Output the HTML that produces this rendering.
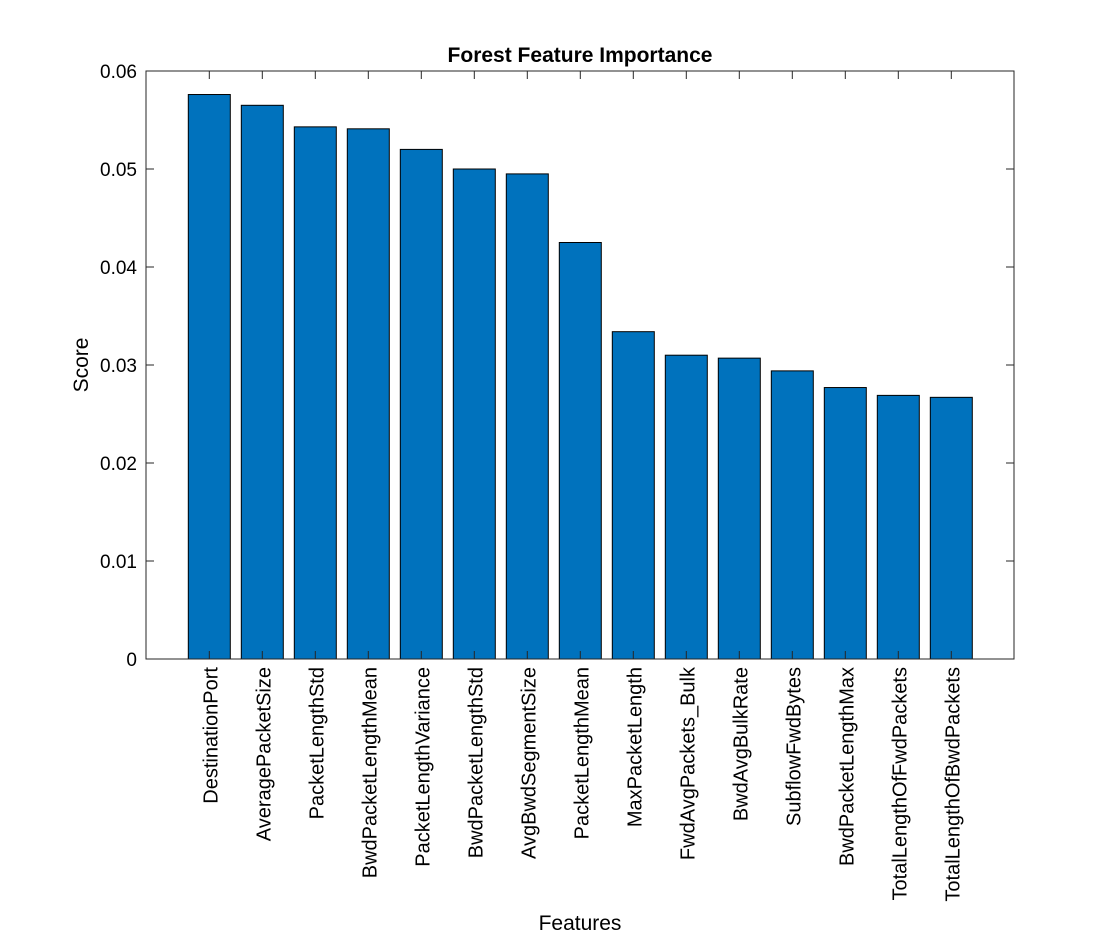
<!DOCTYPE html>
<html><head><meta charset="utf-8"><style>
body{margin:0;background:#fff;}
svg text{font-family:"Liberation Sans",Arial,sans-serif;fill:#000;}
</style></head><body>
<svg id="chart" width="1120" height="936" xmlns="http://www.w3.org/2000/svg">
<rect width="1120" height="936" fill="#fff"/>
<g id="bars"></g><g id="axes"></g>
</svg>
<script>
const categories=["DestinationPort","AveragePacketSize","PacketLengthStd","BwdPacketLengthMean","PacketLengthVariance","BwdPacketLengthStd","AvgBwdSegmentSize","PacketLengthMean","MaxPacketLength","FwdAvgPackets_Bulk","BwdAvgBulkRate","SubflowFwdBytes","BwdPacketLengthMax","TotalLengthOfFwdPackets","TotalLengthOfBwdPackets"];
const scores=[0.0576,0.0565,0.0543,0.0541,0.0520,0.0500,0.0495,0.0425,0.0334,0.0310,0.0307,0.0294,0.0277,0.0269,0.0267];
const yTicks=[0,0.01,0.02,0.03,0.04,0.05,0.06];
const yTickLabels=["0","0.01","0.02","0.03","0.04","0.05","0.06"];
const L=146,R=1014,T=71,B=659,NS="http://www.w3.org/2000/svg";
const y=v=>B-(v/0.06)*(B-T);
const x=i=>209.3+53*i;
const bw=42;
function mk(tag,attrs,parent,txt){const e=document.createElementNS(NS,tag);for(const k in attrs)e.setAttribute(k,attrs[k]);if(txt!==undefined)e.textContent=txt;parent.appendChild(e);return e;}
const bars=document.getElementById('bars'),axes=document.getElementById('axes');
scores.forEach((v,i)=>{
 const r=mk('rect',{x:x(i)-bw/2,y:y(v),width:bw,height:B-y(v),fill:'#0072BD',stroke:'#000','stroke-width':1},bars);
 
 
 mk('line',{x1:x(i),x2:x(i),y1:B,y2:B-8,stroke:'#262626'},axes);
 mk('line',{x1:x(i),x2:x(i),y1:T,y2:T+8,stroke:'#262626'},axes);
 const t=mk('text',{x:0,y:0,'font-size':20,'text-anchor':'end',transform:`translate(${x(i)+8},${B+8}) rotate(-90)`},axes,categories[i]);
 
 
});
yTicks.forEach((v,i)=>{
 mk('line',{x1:L,x2:L+8,y1:y(v),y2:y(v),stroke:'#262626'},axes);
 mk('line',{x1:R,x2:R-8,y1:y(v),y2:y(v),stroke:'#262626'},axes);
 const t=mk('text',{x:137,y:y(v)+7,'font-size':19,'text-anchor':'end'},axes,yTickLabels[i]);
 
 
});
const box=mk('rect',{x:L,y:T,width:R-L,height:B-T,fill:'none',stroke:'#262626','stroke-width':1},axes);


const ti=mk('text',{x:580,y:62,'font-size':21,'font-weight':'bold','text-anchor':'middle'},axes,'Forest Feature Importance');


const yl=mk('text',{x:0,y:0,'font-size':21,'text-anchor':'middle',transform:'translate(88,365) rotate(-90)'},axes,'Score');


const xl=mk('text',{x:580,y:930,'font-size':21,'text-anchor':'middle'},axes,'Features');


</script>
</body></html>
